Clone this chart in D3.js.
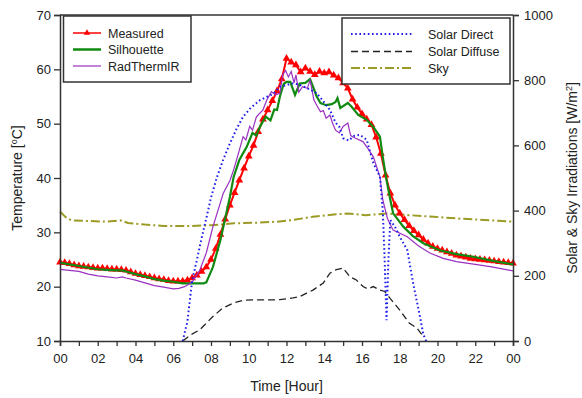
<!DOCTYPE html>
<html>
<head>
<meta charset="utf-8">
<script src="https://cdn.jsdelivr.net/npm/d3@7"></script>
<style>
  body { margin: 0; background: #fff; }
  svg { font-family: "Liberation Sans", Arial, sans-serif; }
</style>
</head>
<body>
<svg id="chart" width="582" height="398"></svg>
<script>
// hour ticks
const hourTicks = d3.range(0, 25, 2);
const hourLabels = ["00","02","04","06","08","10","12","14","16","18","20","22","00"];
const tempTicks = [10, 20, 30, 40, 50, 60, 70];
const irrTicks = [0, 200, 400, 600, 800, 1000];

// Measured surface temperature [hour, degC]
const measured = [
  [0,24.5],[0.25,24.4],[0.5,24.2],[0.75,24.0],[1,23.8],[1.25,23.7],[1.5,23.6],[1.75,23.5],
  [2,23.4],[2.25,23.4],[2.5,23.3],[2.75,23.2],[3,23.2],[3.25,23.1],[3.5,23.0],[3.75,22.7],
  [4,22.4],[4.25,22.2],[4.5,22.0],[4.75,21.8],[5,21.6],[5.25,21.4],[5.5,21.3],[5.75,21.1],
  [6,21.0],[6.25,21.0],[6.5,21.0],[6.75,21.2],[7,21.6],[7.25,22.1],[7.5,22.8],[7.75,23.6],
  [8,25.0],[8.25,27.0],[8.5,29.6],[8.75,32.4],[9,35.0],[9.25,37.3],[9.5,39.6],[9.75,41.8],
  [10,44.0],[10.25,46.0],[10.5,48.5],[10.75,50.8],[11,52.5],[11.25,54.2],[11.5,56.0],[11.75,58.2],
  [12,62.0],[12.25,61.3],[12.5,60.8],[12.75,59.5],[13,60.2],[13.25,59.6],[13.5,59.0],[13.75,59.6],
  [14,59.3],[14.25,59.5],[14.5,58.9],[14.75,58.4],[15,57.5],[15.25,56.5],[15.5,54.5],[15.75,53.0],
  [16,51.8],[16.25,50.8],[16.5,49.8],[16.75,47.5],[17,44.5],[17.25,40.5],[17.5,37.2],[17.75,35.0],
  [18,33.5],[18.25,32.3],[18.5,31.2],[18.75,30.3],[19,29.5],[19.25,28.7],[19.5,28.0],[19.75,27.4],
  [20,27.0],[20.25,26.7],[20.5,26.4],[20.75,26.1],[21,25.8],[21.25,25.6],[21.5,25.4],[21.75,25.2],
  [22,25.1],[22.25,25.0],[22.5,24.9],[22.75,24.8],[23,24.7],[23.25,24.6],[23.5,24.5],[23.75,24.4],[24,24.3]
];

// Silhouette prediction
const silhouette = [
  [0,24.4],[0.5,24.1],[1,23.8],[1.5,23.5],[2,23.2],[2.5,23.1],[3,23.0],[3.3,23.0],[3.6,22.7],
  [4,22.3],[4.5,21.9],[5,21.4],[5.5,21.1],[6,20.9],[6.5,20.6],[7.6,20.6],[7.75,20.8],[8.1,23.6],
  [8.5,28.6],[9,36.5],[9.2,40.2],[9.5,43.3],[9.9,45.8],[10.2,48.3],[10.4,47.8],[10.6,49.5],
  [10.9,51.3],[11.15,50.6],[11.35,52.6],[11.5,52.5],[11.65,55.0],[11.85,57.3],[12.0,57.7],
  [12.2,57.7],[12.45,55.3],[12.7,57.4],[13.0,57.5],[13.25,58.2],[13.6,55.0],[13.8,53.8],
  [14.1,53.4],[14.4,53.6],[14.6,54.0],[14.7,54.7],[14.85,52.9],[15.25,53.8],[15.45,53.1],
  [15.8,51.6],[16.25,50.7],[16.6,49.4],[16.95,47.6],[17.1,43.9],[17.3,39.6],[17.5,36.0],
  [17.65,33.5],[18.2,31.0],[18.7,29.3],[19.25,28.0],[20.1,26.7],[21,26.0],[21.9,25.5],[23,24.7],[24,24.1]
];

// RadThermIR prediction
const radtherm = [
  [0,23.2],[0.5,23.0],[1,22.8],[1.5,22.3],[2,22.0],[2.5,21.8],[3,21.6],[3.3,21.8],[3.5,21.6],
  [4,21.2],[4.5,20.7],[5,20.2],[5.5,19.9],[6,19.6],[6.3,19.7],[6.6,20.0],[7,20.8],[7.4,23.0],
  [7.75,26.2],[8.1,31.0],[8.65,37.2],[9.0,39.5],[9.2,41.5],[9.45,44.5],[9.7,47.6],[9.85,47.0],
  [10.05,49.5],[10.2,48.8],[10.4,51.2],[10.6,52.0],[10.75,52.5],[10.95,54.3],[11.2,55.9],
  [11.4,55.3],[11.65,55.6],[11.8,59.0],[11.95,59.8],[12.1,58.6],[12.25,59.6],[12.4,57.5],
  [12.5,59.0],[12.65,55.8],[12.85,56.8],[13.1,56.5],[13.25,58.0],[13.45,54.4],[13.6,53.4],
  [13.8,52.2],[13.95,52.4],[14.1,51.0],[14.3,51.6],[14.45,50.0],[14.6,48.8],[14.8,48.3],
  [15.0,49.5],[15.25,50.1],[15.4,47.8],[15.6,47.4],[16.05,46.7],[16.3,45.5],[16.6,43.9],
  [16.95,40.2],[17.1,36.0],[17.35,32.5],[17.65,30.4],[18.4,29.2],[19,27.5],[19.6,26.2],
  [20.3,25.2],[21,24.6],[22,24.1],[22.8,23.7],[24,22.9]
];

// irradiations [hour, W/m2]
const solarDirect = [
  [6.5,0],[6.75,60],[7.0,185],[7.25,248],[7.5,315],[7.77,381],[8.0,440],[8.3,500],[8.64,555],
  [9.0,606],[9.35,650],[9.7,688],[10.1,715],[10.6,739],[11.0,750],[11.3,758],[11.65,780],
  [12.0,785],[12.3,790],[12.6,788],[13.0,778],[13.3,770],[13.6,760],[13.9,739],[14.3,709],
  [14.6,670],[14.8,657],[15.0,622],[15.3,615],[15.6,630],[15.9,632],[16.25,617],[16.4,586],
  [16.6,546],[16.95,504],[17.1,400],[17.2,250],[17.3,64],[17.4,250],[17.5,371],[17.75,350],
  [18.0,320],[18.4,279],[18.7,180],[19.07,75],[19.25,20],[19.4,0]
];

const solarDiffuse = [
  [6.5,0],[6.9,18],[7.4,34],[8.1,75],[8.6,100],[9.2,117],[9.7,125],[10.2,126],[11.3,126],
  [11.65,127],[12.35,132],[12.7,136],[13.07,147],[13.4,156],[13.95,178],[14.3,208],[14.6,218],
  [15.0,224],[15.36,197],[15.7,187],[16.06,167],[16.3,160],[16.6,167],[16.95,156],[17.2,152],
  [17.5,130],[18.0,95],[18.5,55],[18.9,40],[19.1,25],[19.3,13]
];

const sky = [
  [0,397],[0.3,380],[0.6,370],[1.5,368],[2.5,366],[3.2,370],[3.6,362],[4.5,357],[5.5,353],
  [7,353],[8,355],[9.2,361],[10.5,363],[11.5,366],[12.3,371],[13.4,381],[14.5,388],[15.2,391],
  [16.2,386],[17.3,391],[18.5,386],[19.8,381],[21,376],[22.5,371],[24,366]
];

const svg = d3.select("#chart");
const margin = {top: 15, right: 69, bottom: 57, left: 60};
const W = 582, H = 398;

const x = d3.scaleLinear().domain([0, 24]).range([margin.left, W - margin.right]);
const yT = d3.scaleLinear().domain([10, 70]).range([H - margin.bottom, margin.top]);
const yI = d3.scaleLinear().domain([0, 1000]).range([H - margin.bottom, margin.top]);

const axisColor = "#333";

// top frame line
svg.append("line")
  .attr("x1", x(0)).attr("x2", x(24))
  .attr("y1", yT(70)).attr("y2", yT(70))
  .attr("stroke", axisColor).attr("stroke-width", 1.5);

const lineT = d3.line().x(d => x(d[0])).y(d => yT(d[1]));
const lineI = d3.line().x(d => x(d[0])).y(d => yI(d[1]));

// irradiation curves
svg.append("path").datum(sky)
  .attr("d", lineI).attr("fill", "none")
  .attr("stroke", "#9b9b25").attr("stroke-width", 2)
  .attr("stroke-dasharray", "9,3,2,3");

svg.append("path").datum(solarDiffuse)
  .attr("d", lineI).attr("fill", "none")
  .attr("stroke", "#222").attr("stroke-width", 1.3)
  .attr("stroke-dasharray", "7,4");

// measured
svg.append("path").datum(measured)
  .attr("d", lineT).attr("fill", "none")
  .attr("stroke", "#ff0000").attr("stroke-width", 2);

svg.append("g").selectAll("path")
  .data(measured)
  .join("path")
  .attr("transform", d => `translate(${x(d[0])},${yT(d[1])})`)
  .attr("d", d3.symbol().type(d3.symbolTriangle).size(26))
  .attr("fill", "#ff0000");

svg.append("path").datum(silhouette)
  .attr("d", lineT).attr("fill", "none")
  .attr("stroke", "#118a11").attr("stroke-width", 2.2);

svg.append("path").datum(radtherm)
  .attr("d", lineT).attr("fill", "none")
  .attr("stroke", "#9b30c0").attr("stroke-width", 1.2);

svg.append("path").datum(solarDirect)
  .attr("d", lineI).attr("fill", "none")
  .attr("stroke", "#2020ee").attr("stroke-width", 2)
  .attr("stroke-dasharray", "1.6,2.6");

// axes
const xAxis = svg.append("g")
  .attr("transform", `translate(0,${H - margin.bottom})`)
  .call(d3.axisBottom(x).tickValues(d3.range(0, 25, 1)).tickSize(5)
    .tickFormat(d => d % 2 === 0 ? hourLabels[hourTicks.indexOf(d)] : ""));

const leftAxis = svg.append("g")
  .attr("transform", `translate(${margin.left},0)`)
  .call(d3.axisLeft(yT).tickValues(tempTicks).tickSize(6));

const rightAxis = svg.append("g")
  .attr("transform", `translate(${W - margin.right},0)`)
  .call(d3.axisRight(yI).tickValues(irrTicks).tickSize(6).tickFormat(d3.format("d")));

[xAxis, leftAxis, rightAxis].forEach(g => {
  g.select(".domain").attr("stroke", axisColor).attr("stroke-width", 1.5);
  g.selectAll(".tick line").attr("stroke", axisColor).attr("stroke-width", 1.3);
  g.selectAll(".tick text").attr("fill", "#222").attr("font-size", 13)
    .attr("font-family", "Liberation Sans, Arial, sans-serif");
});
xAxis.selectAll(".tick text").attr("dy", "1.05em");
leftAxis.selectAll(".tick text").attr("x", -9);
rightAxis.selectAll(".tick text").attr("x", 11);

// axis titles
svg.append("text")
  .attr("x", (x(0) + x(24)) / 2).attr("y", 391)
  .attr("text-anchor", "middle").attr("font-size", 14).attr("fill", "#222")
  .text("Time [Hour]");

const tTitle = svg.append("text")
  .attr("transform", `translate(22,${(yT(10) + yT(70)) / 2}) rotate(-90)`)
  .attr("text-anchor", "middle").attr("font-size", 14).attr("fill", "#222");
tTitle.append("tspan").text("Temperature [");
tTitle.append("tspan").attr("dy", -5).attr("font-size", 9).text("o");
tTitle.append("tspan").attr("dy", 5).text("C]");

const iTitle = svg.append("text")
  .attr("transform", `translate(577,${(yI(0) + yI(1000)) / 2}) rotate(-90)`)
  .attr("text-anchor", "middle").attr("font-size", 14).attr("fill", "#222");
iTitle.append("tspan").text("Solar & Sky Irradiations [W/m");
iTitle.append("tspan").attr("dy", -5).attr("font-size", 9).text("2");
iTitle.append("tspan").attr("dy", 5).text("]");

// legends
const legendLeft = [
  {name: "Measured", color: "#ff0000", width: 1.5, dash: null, marker: true},
  {name: "Silhouette", color: "#118a11", width: 2.5, dash: null},
  {name: "RadThermIR", color: "#9b30c0", width: 1.2, dash: null}
];
const legendRight = [
  {name: "Solar Direct", color: "#2020ee", width: 2, dash: "1.6,2.6"},
  {name: "Solar Diffuse", color: "#222", width: 1.3, dash: "7,4"},
  {name: "Sky", color: "#9b9b25", width: 2, dash: "9,3,2,3"}
];

function drawLegend(items, box, lineX0, lineX1, textX, rowY) {
  const g = svg.append("g");
  g.append("rect")
    .attr("x", box[0]).attr("y", box[1]).attr("width", box[2]).attr("height", box[3])
    .attr("fill", "#fff").attr("stroke", "#333").attr("stroke-width", 1.5);
  items.forEach((it, i) => {
    const yy = rowY[i];
    g.append("line")
      .attr("x1", lineX0).attr("x2", lineX1).attr("y1", yy).attr("y2", yy)
      .attr("stroke", it.color).attr("stroke-width", it.width)
      .attr("stroke-dasharray", it.dash);
    if (it.marker) {
      g.append("path")
        .attr("transform", `translate(${(lineX0 + lineX1) / 2},${yy})`)
        .attr("d", d3.symbol().type(d3.symbolTriangle).size(18))
        .attr("fill", it.color);
    }
    g.append("text")
      .attr("x", textX).attr("y", yy + 4.5)
      .attr("font-size", 12.5).attr("fill", "#222")
      .text(it.name);
  });
}

drawLegend(legendLeft, [63.5, 16, 127.5, 66], 73, 101, 108, [33, 49.5, 66]);
drawLegend(legendRight, [342, 18, 168, 66], 351, 412, 428, [34, 51.5, 68]);
</script>
</body>
</html>
